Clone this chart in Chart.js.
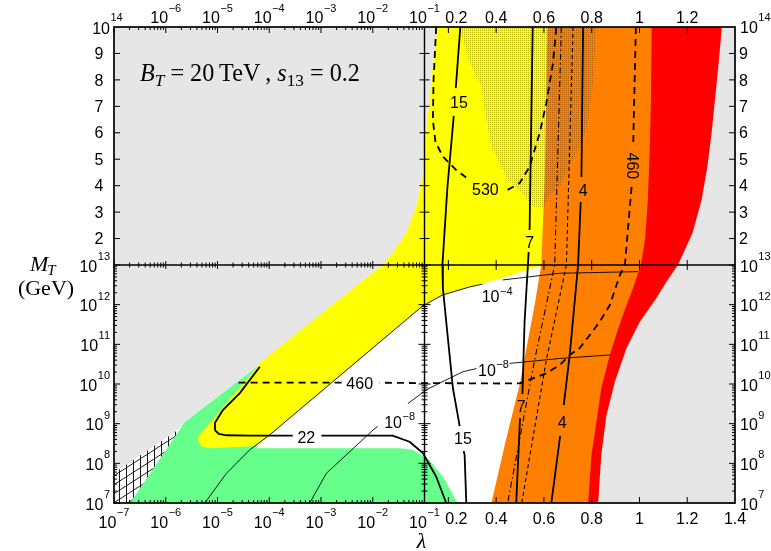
<!DOCTYPE html>
<html><head><meta charset="utf-8">
<script src="https://cdn.jsdelivr.net/npm/chart.js@4.4.1/dist/chart.umd.min.js"></script>
<style>html,body{margin:0;padding:0;background:#fff;}canvas{display:block;}</style>
</head><body>
<canvas id="c" width="771" height="551"></canvas>
<script>
// ================= DATA (points are [lambda, M_T in GeV]) =================
const xLogMajor = [1e-7, 1e-6, 1e-5, 1e-4, 1e-3, 1e-2, 1e-1];
const xLogExp   = ['\u22127','\u22126','\u22125','\u22124','\u22123','\u22122','\u22121'];
const xLinMajor = [0.2, 0.4, 0.6, 0.8, 1.0, 1.2, 1.4];
const xLinLabels= ['0.2','0.4','0.6','0.8','1','1.2','1.4'];
const yLogMajor = [1e7, 1e8, 1e9, 1e10, 1e11, 1e12, 1e13];
const yLogExp   = ['7','8','9','10','11','12','13'];
const yLinMajor = [2e13, 3e13, 4e13, 5e13, 6e13, 7e13, 8e13, 9e13, 1e14];
const yLinLabels= ['2','3','4','5','6','7','8','9'];
const minorMult = [2,3,4,5,6,7,8,9];

const greyLeft = [[1e-7,1e14],[0.155,1e14],[0.134,8.49e13],[0.121,7.24e13],[0.107,5.99e13],[0.1,4.97e13],
  [9.16e-2,4.33e13],[6.92e-2,3.19e13],[4.44e-2,2.21e13],[2.41e-2,1.45e13],[1.55e-2,1e13],[6.66e-3,4.2e12],
  [6.0e-5,2.8e10],[2.34e-6,1.1e9],[1.72e-6,6.9e8],[1e-7,5.7e7]];
const greyRight = [[1.345,1e14],[1.330,8.49e13],[1.316,7.24e13],[1.302,5.99e13],[1.284,4.71e13],[1.260,3.46e13],
  [1.222,2.21e13],[1.161,1e13],[1.113,3.8e12],[1.071,1.47e12],[1.001,3.66e11],[0.946,8.1e10],[0.897,1.14e10],
  [0.862,1.66e9],[0.840,1.62e8],[0.827,1e7],[1.4,1e7],[1.4,1e14]];
const redBand = [[1.051,1e14],[1.048,7.24e13],[1.043,5.35e13],[1.035,3.46e13],[1.023,1.95e13],[1.006,1e13],
  [0.973,2.6e12],[0.946,9.8e11],[0.911,2.5e11],[0.876,5.4e10],[0.840,7.8e9],[0.820,1.12e9],[0.799,1.62e8],
  [0.785,1e7],[1.4,1e7],[1.4,1e14]];
const orangeBand = [[0.614,1e14],[0.610,7.24e13],[0.603,4.21e13],[0.589,1e13],[0.561,9.8e11],[0.498,9.4e9],
  [0.443,4.4e8],[0.380,1e7],[1.4,1e7],[1.4,1e14]];
const yellowBand = [[1.55e-2,1e13],[2.41e-2,1.45e13],[4.44e-2,2.21e13],[6.92e-2,3.19e13],[9.16e-2,4.33e13],
  [0.1,4.97e13],[0.107,5.99e13],[0.121,7.24e13],[0.134,8.49e13],[0.155,1e14],[0.666,1e14],[0.645,1e13],
  [0.582,9.4e12],[0.427,4.7e12],[0.289,2.8e12],[0.175,1.75e12],[9.16e-2,9.3e11],[5.74e-5,2.75e8],
  [7.12e-6,2.4e8],[5.2e-6,2.6e8],[4.37e-6,3.25e8],[4.18e-6,4.6e8],[6.0e-5,2.8e10],[6.56e-5,3.4e10],[6.66e-3,4.2e12]];
const greenBand = [[6.0e-5,2.8e10],[2.34e-6,1.1e9],[2.14e-6,9.3e8],[2.04e-7,1e7],[0.239,1e7],[0.177,4.6e7],
  [0.121,1.2e8],[5.9e-2,2.2e8],[3.3e-2,2.4e8],[5.74e-5,2.4e8]];
const hatchZone = [[1e-7,5.7e7],[1.72e-6,6.9e8],[2.14e-6,9.3e8],[2.04e-7,1e7],[1e-7,1e7]];
const stippleZone = [[0.247,1e14],[0.289,8.64e13],[0.338,7.74e13],[0.359,6.48e13],[0.380,5.47e13],[0.414,4.86e13],
  [0.448,4.21e13],[0.498,3.84e13],[0.553,3.2e13],[0.603,3.2e13],[0.624,3.65e13],[0.666,3.96e13],[0.694,4.48e13],
  [0.736,5.24e13],[0.778,6.11e13],[0.804,7.74e13],[0.820,1e14]];

// contours: list of segments (gaps leave room for labels)
const c15 = [[[0.250,1e14],[0.231,7.69e13]],
  [[0.2225,6.64e13],[0.196,3.95e13],[0.175,1e13],[0.177,2.6e12],[0.191,3.7e11],[0.205,5.4e10],[0.219,7.8e9],[0.244,1.12e9],[0.247,8.7e8]],
  [[0.264,2.05e8],[0.268,1.62e8],[0.275,1e7]]];
const c7 = [[[0.553,1e14],[0.540,2.32e13]],
  [[0.536,1.49e13],[0.533,1e13],[0.519,3.73e11],[0.510,5.6e9]],
  [[0.500,1.39e9],[0.484,1e7]]];
const c4 = [[[0.764,1e14],[0.757,4.33e13]],
  [[0.754,3.38e13],[0.743,1e13],[0.708,5.4e10],[0.683,2.95e9]],
  [[0.668,4.9e8],[0.631,1e7]]];
const c530 = [[[0.149,1e14],[0.138,8.0e13],[0.135,6.48e13],[0.146,5.65e13],[0.177,5.1e13],[0.233,4.59e13],[0.289,4.21e13]],
  [[0.448,3.84e13],[0.498,4.09e13],[0.540,4.72e13],[0.582,5.98e13],[0.610,7.12e13],[0.638,8.63e13],[0.652,1e14]]];
const c460 = [[[0.985,1e14],[0.976,6.48e13],[0.974,5.54e13]],
  [[0.967,3.95e13],[0.939,1e13],[0.918,5.6e12],[0.876,9.8e11],[0.834,3.73e11],[0.792,1.71e11],[0.750,8.1e10],
   [0.708,5.4e10],[0.666,3.0e10],[0.610,1.86e10],[0.554,1.39e10],[0.498,1.04e10],[0.414,1.03e10],[0.163,1.05e10],
   [0.1,1.05e10],[1.36e-2,1.08e10]],
  [[2.5e-3,1.08e10],[2.5e-5,1.08e10]]];
const c22 = [[[6.56e-5,2.73e10],[2.7e-5,5.9e9],[1.27e-5,2.2e9],[8.9e-6,1.04e9],[9.0e-6,6.8e8],[1.06e-5,5.5e8],[1.49e-5,5.1e8],[4.2e-5,5.0e8],[2.84e-4,5.0e8]],
  [[1.02e-3,5.0e8],[2.41e-2,5.0e8],[5.14e-2,3.5e8],[9.29e-2,1.82e8],[0.149,4.6e7],[0.191,1e7]]];
const cE4 = [[[5.7e-6,1e7],[1.49e-5,5.6e7],[4.21e-5,2.2e8],[1.02e-4,5.2e8],[9.16e-2,9.25e11],[0.1,9.8e11],[0.175,1.75e12],[0.289,2.8e12],[0.343,3.3e12]],
  [[0.428,4.2e12],[0.666,6.2e12],[0.994,6.8e12]]];
const cE8 = [[[6.05e-4,1e7],[1.27e-3,5.6e7],[3.58e-3,1.96e8],[1.01e-2,6.9e8],[1.24e-2,8.5e8]],
  [[4.77e-2,3.2e9],[0.107,7.1e9],[0.163,1.05e10],[0.261,2.04e10],[0.318,2.45e10]],
  [[0.456,3.3e10],[0.666,4.4e10],[0.876,5.4e10]]];
const cDashDot = [[[0.673,1e14],[0.645,1e13],[0.561,4.0e10],[0.448,1e7]]];
const cDashed  = [[[0.722,1e14],[0.694,1e13],[0.610,4.0e10],[0.507,1e7]]];

const contourLabels = [
  {t:'15', at:[0.244,7.16e13]}, {t:'530', at:[0.355,3.87e13]}, {t:'7', at:[0.540,1.85e13]},
  {t:'4', at:[0.764,3.81e13]}, {t:'460', at:[0.970,4.75e13], rot:true},
  {t:'22', at:[5.2e-4,4.6e8]}, {t:'460', at:[5.6e-3,1.05e10]},
  {e:'\u22128', at:[3.3e-2,1.1e9]}, {e:'\u22128', at:[0.389,2.25e10]}, {e:'\u22124', at:[0.404,1.59e12]},
  {t:'15', at:[0.261,4.4e8]}, {t:'7', at:[0.505,2.8e9]}, {t:'4', at:[0.676,1.07e9]}
];

// ================= composite axis mapping =================
function ux(l){ return l <= 0.1 ? (Math.log10(l) + 7) / 6 : 1 + (l - 0.1) / 1.3; }
function uy(m){ return m <= 1e13 ? (Math.log10(m) - 7) / 6 : 1 + (m / 1e13 - 1) / 9; }
function pts(a){ return a.map(p => ({x: ux(p[0]), y: uy(p[1])})); }

const SANS = '"Liberation Sans", Arial, sans-serif';
const SERIF = '"Liberation Serif", "Times New Roman", serif';
const ctx0 = document.getElementById('c').getContext('2d');

function stipplePattern(){
  const t = document.createElement('canvas'); t.width = 2; t.height = 2;
  const g = t.getContext('2d'); g.fillStyle = 'rgba(40,25,0,0.32)'; g.fillRect(0,0,1,1);
  return ctx0.createPattern(t, 'repeat');
}
function hatchPattern(){
  const t = document.createElement('canvas'); t.width = 14; t.height = 9;
  const g = t.getContext('2d'); g.strokeStyle = '#000'; g.lineWidth = 0.9;
  g.beginPath(); g.moveTo(0.5,0); g.lineTo(0.5,9); g.moveTo(7.5,0); g.lineTo(7.5,9);
  g.moveTo(-14,18); g.lineTo(28,-9); g.stroke();
  return ctx0.createPattern(t, 'repeat');
}

function area(a, color){
  return {data: pts(a), backgroundColor: color, borderColor: 'rgba(0,0,0,0)', borderWidth: 0,
          fill: 'shape', pointRadius: 0, pointHoverRadius: 0, tension: 0};
}
function lines(segs, w, dash){
  return segs.map(s => ({data: pts(s), borderColor: '#000', borderWidth: w, borderDash: dash || [],
          fill: false, pointRadius: 0, pointHoverRadius: 0, tension: 0, borderCapStyle: 'butt', borderJoinStyle: 'round'}));
}

// bottom -> top
const layers = [
  area(greyLeft, '#e6e6e6'),
  area(greenBand, '#66ff8c'),
  area(hatchZone, hatchPattern()),
  area(yellowBand, '#ffff00'),
  area(orangeBand, '#ff8000'),
  area(redBand, '#ff0000'),
  area(greyRight, '#e6e6e6'),
  area(stippleZone, stipplePattern()),
  ...lines(cE4, 0.9), ...lines(cE8, 0.9),
  ...lines(cDashDot, 1.1, [6,3,1.5,3]), ...lines(cDashed, 1.1, [4,3]),
  ...lines(c15, 1.8), ...lines(c7, 1.8), ...lines(c4, 1.8), ...lines(c22, 1.8),
  ...lines(c530, 1.8, [7,5]), ...lines(c460, 1.8, [7,5])
];

function pow(ctx, x, cy, e, align, dy){
  ctx.font = '16px ' + SANS; const w1 = ctx.measureText('10').width;
  ctx.font = '11px ' + SANS; const w2 = ctx.measureText(e).width;
  const g = 0.5;
  let x0 = x;
  if (align === 'center') x0 = x - (w1 + g + w2) / 2;
  else if (align === 'right') x0 = x - (w1 + g + w2);
  else if (align === 'baseright') x0 = x - w1;
  ctx.textAlign = 'left'; ctx.textBaseline = 'alphabetic';
  ctx.font = '16px ' + SANS; ctx.fillText('10', x0, cy + 5.7);
  ctx.font = '11px ' + SANS; ctx.fillText(e, x0 + w1 + g, cy + dy + 3.9);
}
function txt(ctx, s, x, cy, align){
  ctx.font = '16px ' + SANS; ctx.textAlign = align; ctx.textBaseline = 'alphabetic';
  ctx.fillText(s, x, cy + 5.7);
}
function rich(ctx, x, y, parts, scale){
  parts.forEach(p => { ctx.font = p[1] + (p[2] * scale).toFixed(2) + 'px ' + SERIF;
    ctx.fillText(p[0], x, y + (p[3] || 0) * scale); x += ctx.measureText(p[0]).width; });
  return x;
}

const framePlugin = {
  id: 'frame',
  afterDatasetsDraw(chart){
    const ctx = chart.ctx, xs = chart.scales.x, ys = chart.scales.y;
    const X = l => xs.getPixelForValue(ux(l)), Y = m => ys.getPixelForValue(uy(m));
    const L = xs.left, R = xs.right, T = ys.top, B = ys.bottom, XM = X(0.1), YM = Y(1e13);
    ctx.save();
    ctx.strokeStyle = '#000'; ctx.fillStyle = '#000'; ctx.lineWidth = 1;
    const seg = (a,b,c,d) => { ctx.beginPath(); ctx.moveTo(a,b); ctx.lineTo(c,d); ctx.stroke(); };
    // x ticks
    const xt = [];
    xLogMajor.forEach(v => xt.push([X(v), 6, 4]));
    for (let d = 0; d < 6; d++) minorMult.forEach(m => xt.push([X(m * xLogMajor[d]), 3, 2.5]));
    xLinMajor.slice(0, 6).forEach(v => xt.push([X(v), 6, 5]));
    xt.forEach(([x, len, mid]) => { seg(x, B, x, B - len); seg(x, T, x, T + len); seg(x, YM - mid, x, YM + mid); });
    // y ticks
    const yt = [];
    yLinMajor.slice(0, 8).forEach(v => yt.push([Y(v), 6, 5]));
    yLogMajor.forEach(v => yt.push([Y(v), 6, 6]));
    for (let d = 0; d < 6; d++) minorMult.forEach(m => yt.push([Y(m * yLogMajor[d]), 3, 3]));
    yt.forEach(([y, len, mid]) => { seg(L, y, L + len, y); seg(R, y, R - len, y); seg(XM - mid, y, XM + mid, y); });
    // frame and dividing lines
    ctx.lineWidth = 1.4; seg(L, YM, R, YM); seg(XM, T, XM, B);
    ctx.lineWidth = 1.7; ctx.strokeRect(L, T, R - L, B - T);

    // tick labels: bottom & top
    xLogMajor.forEach((v, i) => {
      pow(ctx, X(v), B + 19.5, xLogExp[i], 'center', -10.8);
      if (i > 0) pow(ctx, X(v), T - 9.5, xLogExp[i], 'center', -9.5);
    });
    xLinMajor.forEach((v, i) => {
      const nudge = i === 0 ? 8 : 0;
      txt(ctx, xLinLabels[i], X(v) + nudge, B + 15.5, 'center');
      if (i < 6) txt(ctx, xLinLabels[i], X(v) + nudge, T - 9.5, 'center');
    });
    // left & right labels
    yLinMajor.slice(0, 8).forEach((v, i) => {
      txt(ctx, yLinLabels[i], L - 10.5, Y(v), 'right');
      txt(ctx, yLinLabels[i], R + 4, Y(v), 'left');
    });
    yLogMajor.forEach((v, i) => {
      pow(ctx, L - 4, Y(v) + 1, yLogExp[i], 'right', -10);
      pow(ctx, R + 5, Y(v) + 1, yLogExp[i], 'left', -10);
    });
    pow(ctx, L - 4, Y(1e14) + 1.5, '14', 'baseright', -11);
    pow(ctx, R + 5, Y(1e14) + 0.5, '14', 'left', -10);

    // contour labels
    contourLabels.forEach(c => {
      const px = X(c.at[0]), py = Y(c.at[1]);
      if (c.e) { pow(ctx, px, py, c.e, 'center', -6); return; }
      if (c.rot) {
        ctx.save(); ctx.translate(px, py); ctx.rotate(Math.PI / 2);
        txt(ctx, c.t, 0, 0, 'center'); ctx.restore(); return;
      }
      txt(ctx, c.t, px, py, 'center');
    });

    // annotation B_T = 20 TeV , s13 = 0.2
    const parts = [['B','italic ',21],['T','italic ',15,4],[' = 20\u2009TeV\u2009, ','',21],['s','italic ',21],['13','',15,4],[' = 0.2','',21]];
    ctx.textAlign = 'left'; ctx.textBaseline = 'alphabetic';
    const wEnd = rich(ctx, -1000, -1000, parts, 1) + 1000;
    rich(ctx, L + 26, T + 54, parts, 220 / wEnd);
    // axis titles
    let x = 30;
    ctx.font = 'italic 22px ' + SERIF; ctx.fillText('M', x, YM + 6); x += ctx.measureText('M').width;
    ctx.font = 'italic 15px ' + SERIF; ctx.fillText('T', x - 1, YM + 10);
    ctx.font = '22px ' + SERIF; ctx.textAlign = 'center'; ctx.fillText('(GeV)', 46, YM + 30);
    ctx.font = 'italic 22px ' + SERIF; ctx.fillText('\u03bb', XM - 3, B + 45);
    ctx.restore();
  }
};

new Chart(ctx0, {
  type: 'line',
  data: { datasets: layers.slice().reverse() },
  options: {
    responsive: false, animation: false, devicePixelRatio: 1, events: [],
    layout: { padding: { left: 114, right: 36, top: 27, bottom: 48 } },
    plugins: { legend: { display: false }, tooltip: { enabled: false } },
    scales: {
      x: { type: 'linear', min: 0, max: 2, display: false },
      y: { type: 'linear', min: 0, max: 2, display: false }
    }
  },
  plugins: [framePlugin]
});
</script>
</body></html>
